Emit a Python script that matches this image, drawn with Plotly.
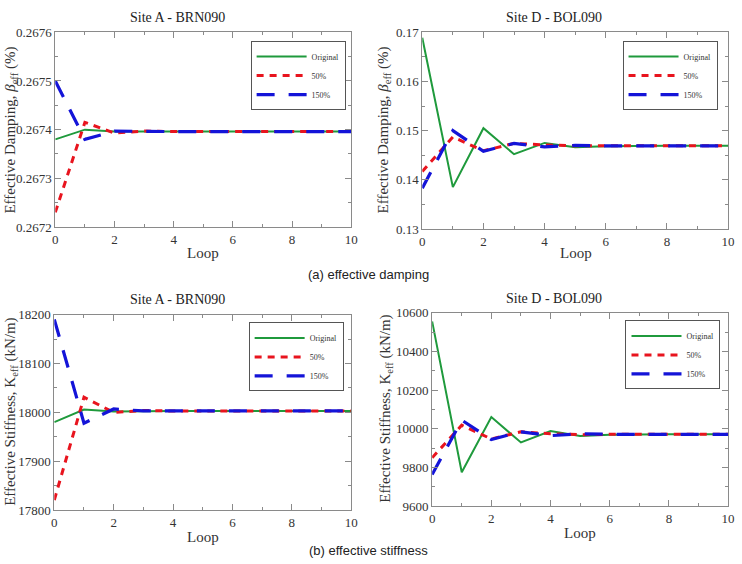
import plotly.graph_objects as go

W, H = 742, 564

loops = list(range(11))

# (a) effective damping
dampA_original = [0.26738, 0.267400, 0.267396, 0.267396, 0.267396, 0.267396, 0.267396, 0.267396, 0.267396, 0.267396, 0.267396]
dampA_50 = [0.26723, 0.267415, 0.267393, 0.267397, 0.267396, 0.267396, 0.267396, 0.267396, 0.267396, 0.267396, 0.267396]
dampA_150 = [0.26750, 0.26738, 0.267397, 0.267396, 0.267396, 0.267396, 0.267396, 0.267396, 0.267396, 0.267396, 0.267396]

dampD_original = [0.1689, 0.1385, 0.1505, 0.1452, 0.1475, 0.1466, 0.1468, 0.1469, 0.1469, 0.1469, 0.1469]
dampD_50 = [0.1417, 0.1487, 0.1459, 0.1474, 0.1471, 0.1469, 0.1469, 0.1469, 0.1469, 0.1469, 0.1469]
dampD_150 = [0.1383, 0.1500, 0.1458, 0.1474, 0.1467, 0.1470, 0.1469, 0.1469, 0.1469, 0.1469, 0.1469]

# (b) effective stiffness
stiffA_original = [17980, 18006, 18002, 18003, 18003, 18003, 18003, 18003, 18003, 18003, 18003]
stiffA_50 = [17821, 18031, 18000, 18004, 18003, 18003, 18003, 18003, 18003, 18003, 18003]
stiffA_150 = [18190, 17978, 18007, 18003, 18003, 18003, 18003, 18003, 18003, 18003, 18003]

stiffD_original = [10555, 9776, 10061, 9930, 9989, 9963, 9970, 9972, 9972, 9972, 9972]
stiffD_50 = [9851, 10019, 9948, 9985, 9975, 9970, 9972, 9972, 9972, 9972, 9972]
stiffD_150 = [9764, 10045, 9945, 9985, 9965, 9975, 9972, 9972, 9972, 9972, 9972]

series_names = ["Original", "50%", "150%"]
titles = ["Site A - BRN090", "Site D - BOL090", "Site A - BRN090", "Site D - BOL090"]
captions = ["(a) effective damping", "(b) effective stiffness"]
ylabel_damp = "Effective Damping, <i>β</i><sub>eff</sub> (%)"
ylabel_stiff = "Effective Stiffness, K<sub>eff</sub> (kN/m)"

SERIF = "Liberation Serif, Times New Roman, serif"
GREEN = "#1f9a3c"
RED = "#e8141e"
BLUE = "#1414d8"
FRAME = "#8a8a8a"

styles = [
    dict(color=GREEN, width=2, dash="solid"),
    dict(color=RED, width=3, dash="7px,6px"),
    dict(color=BLUE, width=3.2, dash="18px,14px"),
]

# panel boxes in pixels: (left, right, top, bottom)
panels = [
    dict(box=(53, 353, 26, 226), data=[dampA_original, dampA_50, dampA_150], yrange=[0.2672, 0.2676],
         dtick=0.0001, minor=0.00005, fmt=".4f", title_xy=(177, 11), loop_xy=(203, 253),
         ylab=ylabel_damp, ylab_xy=(8, 126), legend=(251, 35)),
    dict(box=(425, 735, 26, 228), data=[dampD_original, dampD_50, dampD_150], yrange=[0.13, 0.17],
         dtick=0.01, minor=0.005, fmt=".2f", title_xy=(559, 11), loop_xy=(581, 253),
         ylab=ylabel_damp, ylab_xy=(386, 126), legend=(628, 35)),
    dict(box=(52, 353, 316, 517), data=[stiffA_original, stiffA_50, stiffA_150], yrange=[17800, 18200],
         dtick=100, minor=50, fmt="d", title_xy=(177, 300), loop_xy=(203, 544),
         ylab=ylabel_stiff, ylab_xy=(8, 416), legend=(249, 324)),
    dict(box=(435, 735, 314, 513), data=[stiffD_original, stiffD_50, stiffD_150], yrange=[9600, 10600],
         dtick=200, minor=100, fmt="d", title_xy=(559, 299), loop_xy=(585, 540),
         ylab=ylabel_stiff, ylab_xy=(388, 413), legend=(631, 322)),
]

fig = go.Figure()
layout = dict(
    width=W, height=H, margin=dict(l=0, r=0, t=0, b=0),
    paper_bgcolor="white", plot_bgcolor="white", showlegend=True,
    font=dict(family=SERIF, color="#333333"),
)
annotations = []

for i, p in enumerate(panels):
    n = "" if i == 0 else str(i + 1)
    l, r, t, b = p["box"]
    legname = "legend" + n
    for k, (name, st) in enumerate(zip(series_names, styles)):
        fig.add_trace(go.Scatter(
            x=loops, y=p["data"][k], mode="lines", name=name, line=st,
            xaxis="x" + n, yaxis="y" + n, legend=legname,
        ))
    axcommon = dict(
        showline=True, linecolor=FRAME, linewidth=1, mirror="ticks",
        ticks="inside", ticklen=6, tickcolor=FRAME, tickwidth=1,
        showgrid=False, zeroline=False,
        tickfont=dict(family=SERIF, size=13, color="#333333"),
    )
    layout["xaxis" + n] = dict(
        domain=[l / W, r / W], anchor="y" + n, range=[0, 10], dtick=2, tick0=0,
        minor=dict(dtick=1, ticks="inside", ticklen=3, tickcolor=FRAME),
        **axcommon,
    )
    layout["yaxis" + n] = dict(
        domain=[1 - b / H, 1 - t / H], anchor="x" + n, range=p["yrange"], dtick=p["dtick"],
        tickformat=p["fmt"],
        minor=dict(dtick=p["minor"], ticks="inside", ticklen=3, tickcolor=FRAME),
        **axcommon,
    )
    lx, ly = p["legend"]
    layout[legname] = dict(
        x=lx / W, y=1 - ly / H, xanchor="left", yanchor="top",
        bgcolor="white", bordercolor="#555555", borderwidth=1,
        font=dict(family=SERIF, size=8, color="#333333"),
        itemwidth=50, tracegroupgap=0,
    )
    tx, ty = p["title_xy"]
    annotations.append(dict(text=titles[i], x=tx / W, y=1 - ty / H, xref="paper", yref="paper",
                            showarrow=False, xanchor="center", yanchor="middle",
                            font=dict(family=SERIF, size=14, color="#222222")))
    lpx, lpy = p["loop_xy"]
    annotations.append(dict(text="Loop", x=lpx / W, y=1 - lpy / H, xref="paper", yref="paper",
                            showarrow=False, xanchor="center", yanchor="middle",
                            font=dict(family=SERIF, size=15, color="#333333")))
    yx, yy = p["ylab_xy"]
    annotations.append(dict(text=p["ylab"], x=yx / W, y=1 - yy / H, xref="paper", yref="paper",
                            showarrow=False, xanchor="center", yanchor="middle", textangle=-90,
                            font=dict(family=SERIF, size=15, color="#333333")))

annotations.append(dict(text=captions[0], x=370 / W, y=1 - 275 / H, xref="paper", yref="paper",
                        showarrow=False, xanchor="center", yanchor="middle",
                        font=dict(family="Liberation Sans, Arial, sans-serif", size=13, color="#222222")))
annotations.append(dict(text=captions[1], x=370 / W, y=1 - 549 / H, xref="paper", yref="paper",
                        showarrow=False, xanchor="center", yanchor="top",
                        font=dict(family="Liberation Sans, Arial, sans-serif", size=13, color="#222222")))

layout["annotations"] = annotations
fig.update_layout(**layout)
fig.write_html("out.html")
